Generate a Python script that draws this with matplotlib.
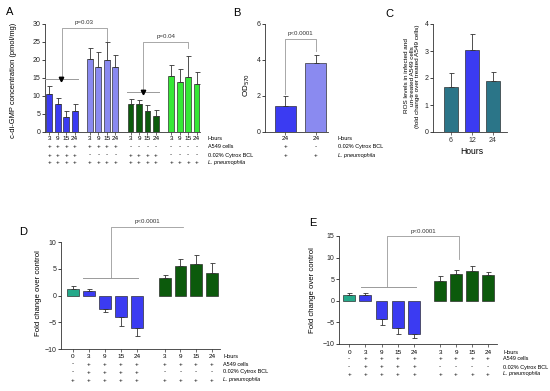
import matplotlib

matplotlib.use("Agg")
import matplotlib.pyplot as plt
from matplotlib.transforms import blended_transform_factory

plt.rcParams["font.family"] = ["Liberation Sans", "DejaVu Sans"]

W, H = 550, 391

BLUE = "#3b3bf2"
LAVENDER = "#8a8af0"
DKGREEN = "#0c5a0c"
LTGREEN = "#36e836"
TEAL_C = "#2b7588"
TEAL_D = "#25a98a"
LINE_GREY = "#9a9a9a"

# ---- panel A ----
A_hours = ["3", "9", "15", "24"] * 4
A_means = [10.5, 7.7, 4.1, 5.9, 20.2, 18.1, 19.9, 18.05, 7.7, 7.8, 5.9, 4.35, 15.55, 13.9, 15.4, 13.3]
A_err = [2.3, 1.65, 1.65, 1.8, 3.2, 4.2, 5.2, 3.35, 1.5, 1.1, 1.5, 1.65, 2.95, 3.6, 5.7, 3.3]
A_colors = [BLUE] * 4 + [LAVENDER] * 4 + [DKGREEN] * 4 + [LTGREEN] * 4
A_a549 = list("++++++++--------")
A_cytrox = list("++++----++++----")
A_lpn = list("++++++++++++++++")

# ---- panel B ----
B_hours = ["24", "24"]
B_means = [1.45, 3.81]
B_err = [0.55, 0.48]
B_colors = [BLUE, LAVENDER]
B_cytrox = ["+", "-"]
B_lpn = ["+", "+"]

# ---- panel C ----
C_hours = ["6", "12", "24"]
C_means = [1.65, 3.05, 1.88]
C_err = [0.53, 0.59, 0.34]
C_colors = [TEAL_C, BLUE, TEAL_C]

# ---- panel D ----
D_hours = ["0", "3", "9", "15", "24", "3", "9", "15", "24"]
D_means = [1.25, 0.8, -2.55, -4.0, -6.05, 3.25, 5.5, 5.9, 4.25]
D_err = [0.5, 0.5, 0.5, 1.7, 1.55, 0.65, 1.25, 1.65, 1.8]

# ---- panel E ----
E_hours = ["0", "3", "9", "15", "24", "3", "9", "15", "24"]
E_means = [1.3, 1.4, -4.1, -6.3, -7.7, 4.55, 6.1, 6.95, 5.95]
E_err = [0.55, 0.5, 1.6, 1.3, 1.0, 1.15, 1.1, 1.0, 0.75]

DE_colors = [TEAL_D] + [BLUE] * 4 + [DKGREEN] * 4
DE_a549 = list("-++++++++")
DE_cytrox = list("-++++----")
DE_lpn = list("+++++++++")

ROW_NAMES = ["Hours", "A549 cells", "0.02% Cytrox BCL", "L. pneumophila"]
ROW_FONT = ["Liberation Sans Narrow", "Liberation Sans", "DejaVu Sans"]

FS_TICK = 5.0
FS_ROW = 4.6
FS_NAME = 4.0


def box(left, top, right, bottom):
    return [left / W, 1 - bottom / H, (right - left) / W, (bottom - top) / H]


def style_axis(ax, ylim, yticks):
    for side in ("top", "right"):
        ax.spines[side].set_visible(False)
    for side in ("left", "bottom"):
        ax.spines[side].set_linewidth(0.6)
        ax.spines[side].set_color("#333333")
    ax.set_ylim(*ylim)
    ax.set_yticks(yticks)
    ax.tick_params(axis="y", labelsize=FS_TICK, length=2.2, width=0.6, pad=1.2, colors="#222222")
    ax.tick_params(axis="x", length=1.8, width=0.5, labelbottom=False, colors="#333333")


def draw_bars(ax, xs, means, errs, colors, width):
    ax.bar(xs, means, width=width, color=colors, edgecolor="#222222", linewidth=0.45, zorder=2)
    lower = [e if m < 0 else 0 for m, e in zip(means, errs)]
    upper = [e if m >= 0 else 0 for m, e in zip(means, errs)]
    ax.errorbar(xs, means, yerr=[lower, upper], fmt="none", ecolor="#333333",
                elinewidth=0.6, capsize=1.8, capthick=0.6, zorder=3)
    ax.set_xticks(xs)


def rows(fig, ax, xs, row_values, row_ys, label_x, names):
    tr = blended_transform_factory(ax.transData, fig.transFigure)
    for vals, y in zip(row_values, row_ys):
        for x, v in zip(xs, vals):
            ax.text(x, 1 - y / H, v, transform=tr, ha="center", va="center",
                    fontsize=FS_ROW, clip_on=False)
    for name, y in zip(names, row_ys):
        style = "italic" if name.startswith("L.") else "normal"
        fig.text(label_x / W, 1 - y / H, name, ha="left", va="center", fontsize=FS_NAME,
                 family=ROW_FONT, fontstyle=style)


def bracket(ax, x0, x1, y_left, y_top, y_right, label, label_y):
    kw = dict(color=LINE_GREY, linewidth=0.6, clip_on=False, zorder=4)
    xs = [x0, x0, x1]
    ys = [y_left, y_top, y_top]
    if y_right is not None:
        xs.append(x1)
        ys.append(y_right)
    ax.plot(xs, ys, **kw)
    ax.text((x0 + x1) / 2, label_y, label, ha="center", va="bottom", fontsize=4.4,
            color="#333333", clip_on=False)


def ylabel(fig, x, y, text, fontsize=5.4):
    fig.text(x / W, 1 - y / H, text, rotation=90, ha="center", va="center",
             fontsize=fontsize, linespacing=1.1)


def panel_letter(fig, x, y, letter):
    fig.text(x / W, 1 - y / H, letter, ha="left", va="center", fontsize=8)


fig = plt.figure(figsize=(5.5, 3.91), dpi=100)

# ---------- A ----------
axA = fig.add_axes(box(45, 24, 200, 132))
A_x = [i % 4 + (i // 4) * 4.8 for i in range(16)]
draw_bars(axA, A_x, A_means, A_err, A_colors, 0.68)
style_axis(axA, (0, 30), range(0, 31, 5))
axA.set_xlim(-0.5, 17.8)
rows(fig, axA, A_x, [A_hours, A_a549, A_cytrox, A_lpn], [138, 147, 155, 163], 208, ROW_NAMES)
for g, ly in ((0, 14.8), (2, 11.1)):
    c = g * 4.8 + 1.5
    axA.plot([c - 1.95, c + 1.85], [ly, ly], color=LINE_GREY, linewidth=0.7, zorder=4)
    axA.plot([c - 0.08], [ly], marker="v", color="black", markersize=3.2, zorder=5)
bracket(axA, 1.45, 6.8, 15.3, 28.8, 25.3, "p=0.03", 29.6)
bracket(axA, 11.1, 16.4, 11.6, 24.9, 23.4, "p=0.04", 25.7)
ylabel(fig, 14, 80, "c-di-GMP concentration (pmol/mg)")
panel_letter(fig, 6, 12, "A")

# ---------- B ----------
axB = fig.add_axes(box(265, 24, 328, 132))
B_x = [0, 1]
draw_bars(axB, B_x, B_means, B_err, B_colors, 0.68)
style_axis(axB, (0, 6), range(0, 7, 2))
axB.set_xlim(-0.65, 1.39)
rows(fig, axB, B_x, [B_hours, B_cytrox, B_lpn], [139, 147, 155], 338,
     [ROW_NAMES[0], ROW_NAMES[2], ROW_NAMES[3]])
bracket(axB, 0, 1, 2.1, 5.17, 4.5, "p<0.0001", 5.35)
ylabel(fig, 247, 85, "OD$_{570}$", fontsize=5.8)
panel_letter(fig, 233, 13, "B")

# ---------- C ----------
axC = fig.add_axes(box(433, 24, 507, 132))
C_x = [0, 1, 2]
draw_bars(axC, C_x, C_means, C_err, C_colors, 0.68)
style_axis(axC, (0, 4), range(0, 5))
axC.set_xlim(-0.86, 2.67)
axC.tick_params(axis="x", labelbottom=True, labelsize=FS_TICK, pad=1.5)
axC.set_xticklabels(C_hours)
fig.text(472 / W, 1 - 152 / H, "Hours", ha="center", va="center", fontsize=6.2)
ylabel(fig, 412, 76, "ROS levels in infected and\nun-treated A549 cells\n(fold change over treated A549 cells)",
       fontsize=4.6)
panel_letter(fig, 385, 14, "C")

# ---------- D ----------
axD = fig.add_axes(box(61, 242, 220, 349))
D_x = [0, 1, 2, 3, 4, 5.75, 6.72, 7.7, 8.69]
draw_bars(axD, D_x, D_means, D_err, DE_colors, 0.72)
style_axis(axD, (-10, 10), range(-10, 11, 5))
axD.set_xlim(-0.75, 9.2)
rows(fig, axD, D_x, [D_hours, DE_a549, DE_cytrox, DE_lpn], [356, 364, 372, 380], 223, ROW_NAMES)
axD.plot([0.62, 4.06], [3.3, 3.3], color=LINE_GREY, linewidth=0.7, zorder=4)
bracket(axD, 2.37, 6.9, 3.3, 12.8, None, "p<0.0001", 13.3)
ylabel(fig, 38, 293, "Fold change over control", fontsize=5.6)
panel_letter(fig, 19, 232, "D")

# ---------- E ----------
axE = fig.add_axes(box(339, 236, 497, 344))
E_x = [0, 1, 2, 3, 4, 5.6, 6.58, 7.57, 8.55]
draw_bars(axE, E_x, E_means, E_err, DE_colors, 0.72)
style_axis(axE, (-10, 15), range(-10, 16, 5))
axE.set_xlim(-0.62, 9.1)
rows(fig, axE, E_x, [E_hours, DE_a549, DE_cytrox, DE_lpn], [352, 359, 367, 374], 503, ROW_NAMES)
axE.plot([0.74, 4.12], [3.1, 3.1], color=LINE_GREY, linewidth=0.7, zorder=4)
bracket(axE, 2.34, 6.77, 3.1, 14.9, 9.6, "p<0.0001", 15.5)
ylabel(fig, 313, 290, "Fold change over control", fontsize=5.6)
panel_letter(fig, 309, 223, "E")

fig.savefig("out.png", dpi=100)
